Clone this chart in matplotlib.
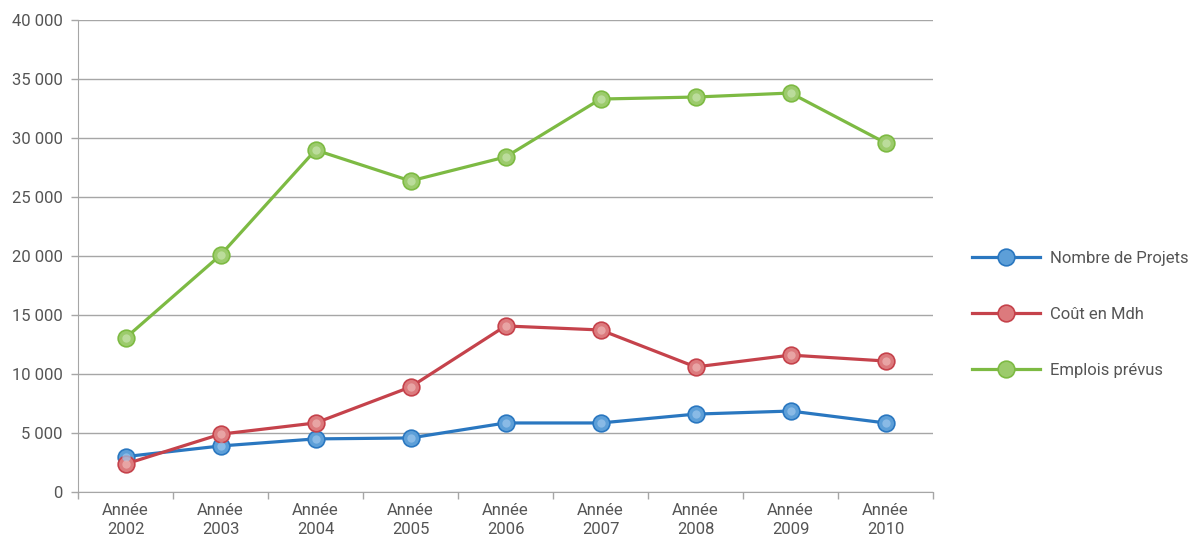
import matplotlib
matplotlib.use("Agg")
import matplotlib.pyplot as plt
from matplotlib.ticker import FuncFormatter, FixedLocator

years = ["2002", "2003", "2004", "2005", "2006", "2007", "2008", "2009", "2010"]
nombre_projets = [3000, 3900, 4500, 4580, 5850, 5850, 6600, 6860, 5850]
cout_mdh = [2370, 4900, 5850, 8900, 14070, 13730, 10600, 11600, 11100]
emplois_prevus = [13050, 20080, 28980, 26360, 28390, 33300, 33470, 33810, 29580]

series = [
    ("Nombre de Projets", nombre_projets, "#2a77c0", "#5d9fd8", "#9cc6ec"),
    ("Coût en Mdh", cout_mdh, "#c5424b", "#dc7a7d", "#eeb6b6"),
    ("Emplois prévus", emplois_prevus, "#7dba43", "#9ccb6c", "#c9e4b0"),
]

plt.rcParams["font.family"] = ["Roboto", "DejaVu Sans"]
text_color = "#555555"
grid_color = "#a6a6a6"

fig = plt.figure(figsize=(12.04, 5.4), dpi=100)
ax = fig.add_axes([0.0648, 0.0889, 0.7102, 0.8741])

x = list(range(len(years)))
for label, values, line_c, face_c, hi_c in series:
    ax.plot(x, values, color=line_c, linewidth=2.3, marker="o", markersize=12,
            markerfacecolor=face_c, markeredgecolor=line_c, markeredgewidth=1.2,
            label=label, zorder=3)
    ax.plot(x, values, linestyle="none", marker="o", markersize=6,
            markerfacecolor=hi_c, markeredgecolor="none", alpha=0.7, zorder=4)

ax.set_xlim(-0.5, len(years) - 0.5)
ax.set_ylim(0, 40000)
ax.set_yticks(range(0, 40001, 5000))
ax.yaxis.set_major_formatter(FuncFormatter(lambda v, p: f"{int(v):,}".replace(",", " ")))
ax.yaxis.grid(True, color=grid_color, linewidth=1)
ax.set_axisbelow(True)

ax.set_xticks(x)
ax.set_xticklabels([f"Année\n{y}" for y in years], linespacing=1.35)
ax.xaxis.set_minor_locator(FixedLocator([i - 0.5 for i in range(len(years) + 1)]))
ax.tick_params(axis="x", which="major", length=0, pad=8, labelsize=12, labelcolor=text_color)
ax.tick_params(axis="x", which="minor", length=5, color=grid_color, width=1)
ax.tick_params(axis="y", length=5, color=grid_color, width=1, labelsize=12,
               labelcolor=text_color, pad=6)

for side in ["top", "right"]:
    ax.spines[side].set_visible(False)
ax.spines["left"].set_color(grid_color)
ax.spines["bottom"].set_color(grid_color)

handles, labels = ax.get_legend_handles_labels()
leg = ax.legend(handles, labels, loc="center left", bbox_to_anchor=(1.028, 0.376),
                frameon=False, fontsize=12, handlelength=4.1, labelspacing=2.45,
                handletextpad=0.6)
for t in leg.get_texts():
    t.set_color(text_color)

fig.savefig("out.png", dpi=100)
